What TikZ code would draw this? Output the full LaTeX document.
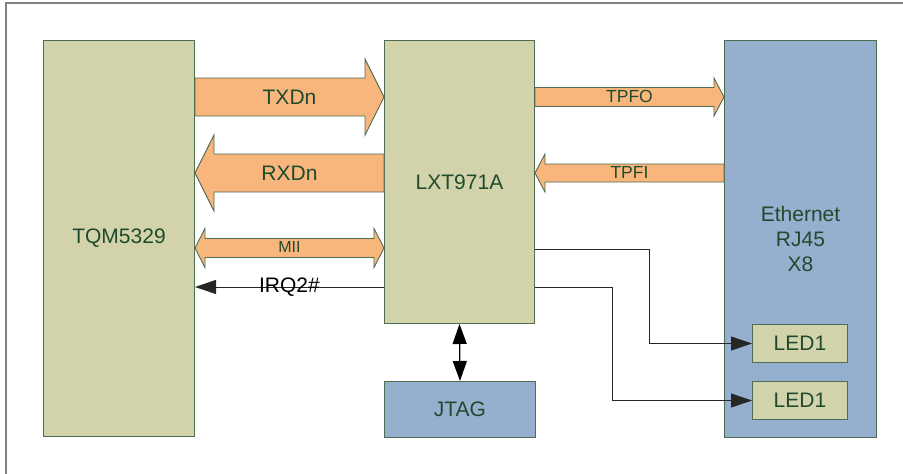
\documentclass[tikz,border=0pt]{standalone}
\usepackage{fontspec}
\setmainfont{Liberation Sans}
\usetikzlibrary{arrows.meta,calc}
\definecolor{khaki}{RGB}{211,211,171}
\definecolor{steel}{RGB}{150,175,207}
\definecolor{orng}{RGB}{248,182,125}
\definecolor{txtc}{RGB}{30,75,45}
\definecolor{edgec}{RGB}{78,108,82}
\definecolor{framec}{RGB}{128,128,128}
\newcommand\FatArrow[5]{%
  \draw[fat] ($(#1)+(0,-#4)$) -- ($(#2)+(#3,-#4)$) -- ($(#2)+(#3,-#5)$) -- (#2)
    -- ($(#2)+(#3,#5)$) -- ($(#2)+(#3,#4)$) -- ($(#1)+(0,#4)$) -- cycle;}
\begin{document}
\begin{tikzpicture}[x=1pt,y=-1pt,
  box/.style={draw=edgec, line width=1pt, anchor=north west, inner sep=0pt,
    text=txtc, font=\fontsize{21}{25}\selectfont, align=center},
  kbox/.style={box, fill=khaki},
  bbox/.style={box, fill=steel},
  fat/.style={draw=edgec, line width=0.9pt, fill=orng, line join=miter},
  lbl/.style={text=txtc, font=\fontsize{21}{25}\selectfont, inner sep=0pt},
  slbl/.style={text=txtc, font=\fontsize{17.5}{20}\selectfont, inner sep=0pt},
  mlbl/.style={text=txtc, font=\fontsize{16}{19}\selectfont, inner sep=0pt},
  sig/.style={draw=black!85, line width=0.9pt, -{Triangle[length=21pt,width=14pt]}},
  jt/.style={draw=black, line width=1.3pt, {Triangle[length=20pt,width=14pt]}-{Triangle[length=20pt,width=14pt]}}
]
\useasboundingbox (0,0) rectangle (903,474);
\draw[framec, line width=2pt] (5.5,474) -- (5.5,3) -- (903,3);

% boxes
\node[kbox, minimum width=151pt, minimum height=396pt] (tqm) at (43,40) {TQM5329};
\node[kbox, minimum width=150pt, minimum height=283pt] (lxt) at (384,40) {LXT971A};
\node[bbox, minimum width=152pt, minimum height=397pt] (eth) at (724,40) {Ethernet\\RJ45\\X8};
\node[kbox, minimum width=95pt, minimum height=38pt] (led1) at (752,324) {LED1};
\node[kbox, minimum width=95pt, minimum height=38pt] (led2) at (752,381) {LED1};
\node[bbox, minimum width=151pt, minimum height=56pt] (jtag) at (384,381) {JTAG};

% anchor points for the bus arrows
\coordinate (txT) at (tqm.east |- 0,97);
\coordinate (txP) at (lxt.west |- 0,97);
\coordinate (rxT) at (lxt.west |- 0,173);
\coordinate (rxP) at (tqm.east |- 0,173);
\coordinate (miA) at (tqm.east |- 0,248);
\coordinate (miB) at (lxt.west |- 0,248);
\coordinate (toT) at (lxt.east |- 0,97);
\coordinate (toP) at (eth.west |- 0,97);
\coordinate (tiT) at (eth.west |- 0,173);
\coordinate (tiP) at (lxt.east |- 0,173);

\FatArrow{txT}{txP}{-19}{19}{38}
\FatArrow{rxT}{rxP}{19}{19}{38}
\FatArrow{toT}{toP}{-10}{9.5}{19}
\FatArrow{tiT}{tiP}{10}{9}{19}
\draw[fat] (miA) -- ($(miA)+(10,-19.5)$) -- ($(miA)+(10,-9.5)$) -- ($(miB)+(-10,-9.5)$)
  -- ($(miB)+(-10,-19.5)$) -- (miB) -- ($(miB)+(-10,19.5)$) -- ($(miB)+(-10,9.5)$)
  -- ($(miA)+(10,9.5)$) -- ($(miA)+(10,19.5)$) -- cycle;

\node[lbl] (txl) at ($(txT)!0.5!(txP)$) {TXDn};
\node[lbl] (rxl) at ($(rxT)!0.5!(rxP)$) {RXDn};
\node[mlbl] (mil) at ($(miA)!0.5!(miB)+(0,-1)$) {MII};
\node[slbl] (tol) at ($(toT)!0.5!(toP)+(0,-1)$) {TPFO};
\node[slbl] (til) at ($(tiT)!0.5!(tiP)+(0,-1)$) {TPFI};

% IRQ line
\coordinate (irS) at (lxt.west |- 0,287);
\coordinate (irE) at (tqm.east |- 0,287);
\draw[sig] (irS) -- (irE);
\node[lbl, text=black] (irl) at ($(irS)!0.5!(irE)$) {IRQ2\#};

% LED lines
\coordinate (l1s) at (lxt.east |- 0,249);
\coordinate (l2s) at (lxt.east |- 0,287);
\draw[sig] (l1s) -- ++(114,0) |- (led1.west);
\draw[sig] (l2s) -- ++(77,0) |- (led2.west);

% JTAG
\draw[jt] (lxt.south) -- (jtag.north);
\end{tikzpicture}
\end{document}
